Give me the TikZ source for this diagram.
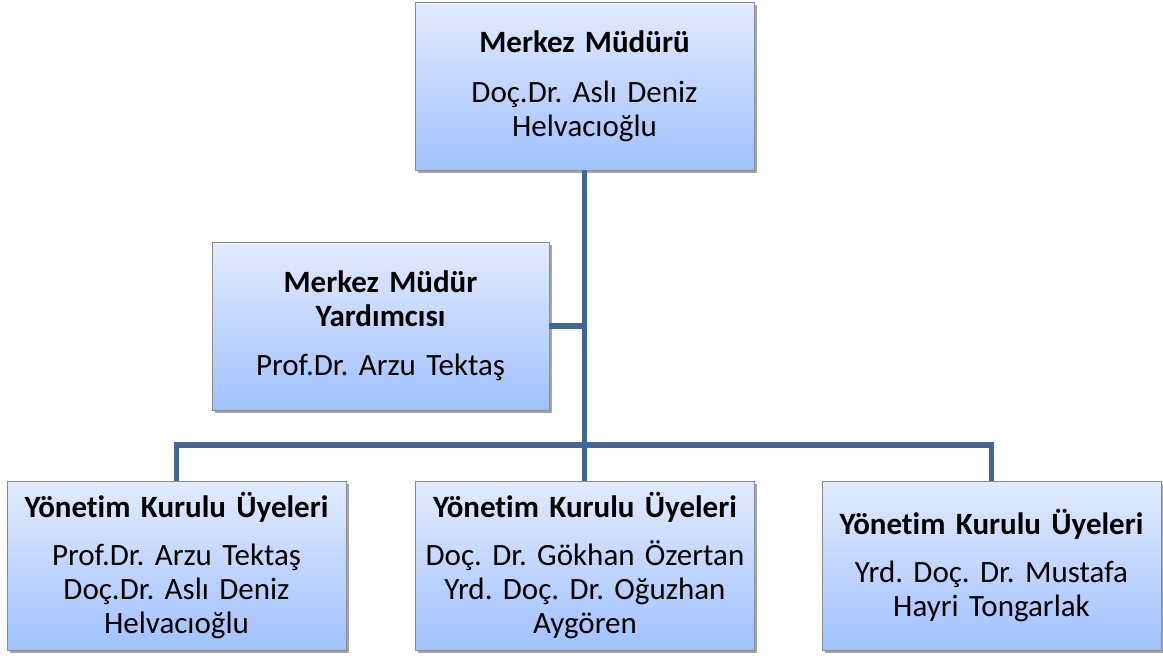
\documentclass[tikz,border=0pt]{standalone}
\usepackage{fontspec}
\setmainfont{Carlito}[Ligatures=NoCommon]
\usetikzlibrary{shadows}
\frenchspacing
\definecolor{boxtop}{RGB}{226,235,254}
\definecolor{boxbot}{RGB}{161,194,254}
\definecolor{boxline}{RGB}{140,140,140}
\definecolor{conn}{RGB}{65,102,154}
\tikzset{
  orgbox/.style={draw=boxline, line width=0.8pt, top color=boxtop, bottom color=boxbot,
    minimum height=168pt, inner sep=2pt, align=center,
    font=\fontsize{31}{34}\selectfont,
    drop shadow={shadow xshift=2.5pt, shadow yshift=-2.5pt, opacity=0.35, fill=black}},
  connline/.style={draw=conn, line width=5.5pt}
}
\begin{document}
\begin{tikzpicture}[x=1pt,y=1pt]
\useasboundingbox (0,0) rectangle (1163,-657);
\coordinate (bus) at (585,-445);
\node[orgbox, minimum width=339pt, text width=335pt] (top) at (584.5,-86)
  {\textbf{Merkez Müdürü}\\[16pt]Doç.Dr. Aslı Deniz\\Helvacıoğlu};
\node[orgbox, minimum width=337pt, text width=333pt] (mid) at (380.5,-326)
  {\textbf{Merkez Müdür}\\\textbf{Yardımcısı}\\[15pt]Prof.Dr. Arzu Tektaş};
\node[orgbox, minimum width=337pt, text width=335pt, minimum height=169pt] (bl) at (176.5,-565.5)
  {\textbf{Yönetim Kurulu Üyeleri}\\[14pt]Prof.Dr. Arzu Tektaş\\Doç.Dr. Aslı Deniz\\Helvacıoğlu};
\node[orgbox, minimum width=338pt, text width=335pt, minimum height=169pt] (bm) at (585,-565.5)
  {\textbf{Yönetim Kurulu Üyeleri}\\[14pt]Doç. Dr. Gökhan Özertan\\Yrd. Doç. Dr. Oğuzhan\\Aygören};
\node[orgbox, minimum width=337pt, text width=335pt, minimum height=169pt] (br) at (991.5,-565.5)
  {\textbf{Yönetim Kurulu Üyeleri}\\[14pt]Yrd. Doç. Dr. Mustafa\\Hayri Tongarlak};
\draw[connline] (top.south) -- (top.south |- bm.north);
\draw[connline] (bl.north) |- (bus) -| (br.north);
\draw[connline] (mid.east) -- (mid.east -| top.south);
\end{tikzpicture}
\end{document}
